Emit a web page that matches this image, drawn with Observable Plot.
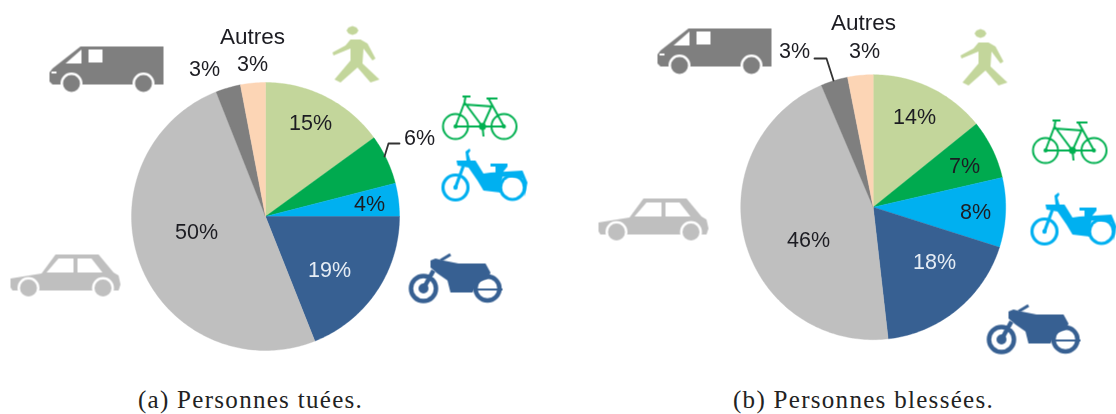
<!DOCTYPE html>
<html><head><meta charset="utf-8">
<script src="https://cdn.jsdelivr.net/npm/d3@7"></script>
<script src="https://cdn.jsdelivr.net/npm/@observablehq/plot@0.6"></script>
<style>html,body{margin:0;padding:0;background:#fff}
g[font-family="Liberation Serif"]{letter-spacing:1.3px}</style>
</head><body><div id="chart"></div>
<script>
// ---- data ----
const categories = ["Piétons","Vélos","Cyclos","Motos","Voitures","Utilitaires","Autres"];
const killed  = [15,6,4,19,50,3,3];
const injured = [14,7,8,18,46,3,3];
// slice sizes as drawn in the picture (the printed labels are rounded)
const killedShares  = [15,6,4,19,50,3,3];
const injuredShares = [14.2,7.2,8.5,18.3,45.4,3.3,3.1];
const sliceColors = ["#c3d69b","#00aa4f","#00b0f0","#376092","#bfbfbf","#7f7f7f","#fcd5b5"];
const captions = ["(a) Personnes tuées.","(b) Personnes blessées."];

// ---- layout (page pixels) ----
const pies = [
  {name:"a", cx:265, cy:216, r:134, values:killed, shares:killedShares},
  {name:"b", cx:872.7, cy:206.7, r:132.5, values:injured, shares:injuredShares}
];
const labelSpots = {
  a:[[310,123],[419,138],[369,204],[329,270],[196,232],[204,69],[252,64]],
  b:[[914,117],[964,166],[975,212],[934,262],[808,240],[794,51],[864,51]]
};
const headers = [{t:"Autres",x:252,y:36},{t:"Autres",x:863,y:22}];
const leaders = [
  {id:"a",pts:[[384,156],[388,143],[399,143]]},
  {id:"b",pts:[[833,80],[826,58],[814,58]]}
];
const captionSpots = [[250,399],[863,399]];

// ---- slices as arcs ----
const slicePts = [], labels = [];
for (const p of pies) {
  const arcs = d3.pie().sort(null)(p.shares);
  arcs.forEach((a,i)=>{
    const id = p.name + i, pts = [[p.cx,p.cy]];
    const n = Math.ceil((a.endAngle-a.startAngle)/(Math.PI/180));
    for (let k=0;k<=n;k++){
      const t = a.startAngle + (a.endAngle-a.startAngle)*k/n;
      pts.push([p.cx+p.r*Math.sin(t), p.cy-p.r*Math.cos(t)]);
    }
    pts.push([p.cx,p.cy]);
    pts.forEach(([x,y])=>slicePts.push({id,x,y,cat:categories[i]}));
    const [x,y] = labelSpots[p.name][i];
    labels.push({t:p.values[i]+"%",x,y,cat:categories[i]});
  });
}

// ---- icon glyphs as custom dot symbols ----
const poly = pts => ctx => { pts.forEach(([x,y],i)=> i?ctx.lineTo(x,y):ctx.moveTo(x,y)); ctx.closePath(); };
const open = pts => ctx => { pts.forEach(([x,y],i)=> i?ctx.lineTo(x,y):ctx.moveTo(x,y)); };
const circle = (x,y,r) => ctx => { ctx.moveTo(x+r,y); ctx.arc(x,y,r,0,2*Math.PI); };
const sym = (...parts) => ({draw(ctx){ parts.forEach(p=>p(ctx)); }});

const iconAt = (spots, color, layers) => layers.map(l =>
  Plot.dot(spots,{x:d=>d[0],y:d=>d[1],symbol:l.s,
    fill:l.line?"none":(l.white?"#fff":color),
    stroke:l.line?(l.white?"#fff":color):"none",
    strokeWidth:l.line||undefined, imageFilter:"blur(0.5px)"}));

const vanLayers = [
 {s:sym(poly([[31,0],[114,0],[114,38],[3,38],[0,35],[0,26],[3,22]]))},
 {white:true,s:sym(circle(22,37,11),circle(94,37,11),poly([[32,3],[32,17],[16,17]]),poly([[39,3],[53,3],[53,16],[39,16]]),poly([[2,25],[7,25],[7,27],[2,27]]))},
 {s:sym(circle(22,37,8.5),circle(94,37,8.5))}
];
const carLayers = [
 {s:sym(poly([[45,0],[88,0],[103,18],[108,21],[110,30],[108,36],[2,36],[0,33],[0,24],[31,19]]))},
 {white:true,s:sym(circle(18,33.5,11),circle(92.5,33.5,11),poly([[36,18],[48,4],[63,4],[63,18]]),poly([[67,4],[81,4],[92,18],[67,18]]))},
 {s:sym(circle(18,33.5,8.5),circle(92.5,33.5,8.5))}
];
const walkerLayers = [
 {s:sym(poly([[14,5],[16,2],[20,0.5],[24,2],[26,5],[24,8],[20,9.5],[16,8]]),
   poly([[18,14],[28,14],[35,18],[43,33],[40,35],[31,23],[30,38],[47,54],[38,57],[25,42],[8,57],[2,54],[18,35],[18,23],[1,30],[0,27],[13,20]]))}
];
const bikeLayers = [
 {line:2,s:sym(circle(13,31,12.5),circle(61.5,31,12.5),
   open([[13,31],[22,7],[40,31],[49,11],[22,9]]),open([[13,31],[40,31],[61.5,31]]),
   open([[46,3],[61.5,31]]),open([[20,1],[28,1]]),open([[23,1],[22,7]]),open([[44,3],[55,3]]),open([[40,31],[41,41]]))},
 {s:sym(circle(40,31,3.5),circle(13,31,2),circle(61.5,31,2))}
];
const mopedLayers = [
 {line:3.2,s:sym(circle(13,39,12.5),circle(70,39,12),open([[21,17],[13,39]]))},
 {s:sym(poly([[14,12],[33,12],[41,25],[48,24],[80,22],[85,34],[82,48],[80,30],[60,28],[58,44],[41,42],[35,32],[26,19],[15,17]]),
   poly([[23,3],[27,0],[28,2],[26,5],[28,12],[24,12]]),
   poly([[48,15],[65,15],[65,18],[60,24],[53,24],[53,18],[48,18]]),
   circle(13,39,2.2))},
 {white:true,s:sym(poly([[62,32],[76,32],[79,39],[76,45],[62,45],[64,42],[74,42],[74,36],[64,36]]))}
];
const motoLayers = [
 {line:4.5,s:sym(circle(14,34,12.5),circle(78,34,12),open([[24,16],[14,34]]))},
 {line:3,s:sym(open([[31,6],[41,0]]))},
 {line:2,s:sym(open([[66,35],[93,35]]))},
 {s:sym(poly([[21,6],[26,4],[34,6],[49,9],[76,9],[81,18],[79,24],[68,28],[63,38],[41,38],[38,26],[28,19],[21,13]]),circle(14,34,5))}
];

const iconMarks = [
  ...iconAt([[49,46],[657,28]],"#7f7f7f",vanLayers),
  ...iconAt([[10,254],[598,198]],"#bfbfbf",carLayers),
  ...iconAt([[332,25],[960,28]],"#c3d69b",walkerLayers),
  ...iconAt([[442,95],[1032,119]],"#00b050",bikeLayers),
  ...iconAt([[442,148],[1031,192]],"#00b0f0",mopedLayers),
  ...iconAt([[409,254],[987,305]],"#376092",motoLayers)
];

const textFont = "Liberation Sans";
const ink = "#1c1c22";
const chart = Plot.plot({
  width:1116, height:414, margin:0,
  x:{domain:[0,1116],range:[0,1116],axis:null},
  y:{domain:[0,414],range:[0,414],axis:null},
  color:{domain:categories,range:sliceColors},
  style:{background:"#fff"},
  marks:[
    Plot.line(slicePts,{x:"x",y:"y",z:"id",fill:"cat",stroke:"cat",strokeWidth:0.4,curve:"linear",imageFilter:"blur(0.4px)"}),
    ...iconMarks,
    ...leaders.map(l=>Plot.line(l.pts,{x:d=>d[0],y:d=>d[1],stroke:"#333",strokeWidth:1.8,curve:"linear",imageFilter:"blur(0.4px)"})),
    Plot.text(labels,{x:"x",y:"y",text:"t",fontFamily:textFont,fontSize:21.5,lineAnchor:"middle",
      fill:d=>(d.cat==="Motos"?"#e6edf5":ink),imageFilter:"blur(0.4px)"}),
    Plot.text(headers,{x:"x",y:"y",text:"t",fontFamily:textFont,fontSize:22.5,lineAnchor:"middle",fill:ink,imageFilter:"blur(0.4px)"}),
    Plot.text(captions.map((t,i)=>({t,x:captionSpots[i][0],y:captionSpots[i][1]})),
      {x:"x",y:"y",text:"t",fontFamily:"Liberation Serif",fontSize:25,lineAnchor:"middle",fill:"#222"})
  ]
});
document.getElementById("chart").append(chart);
</script></body></html>
